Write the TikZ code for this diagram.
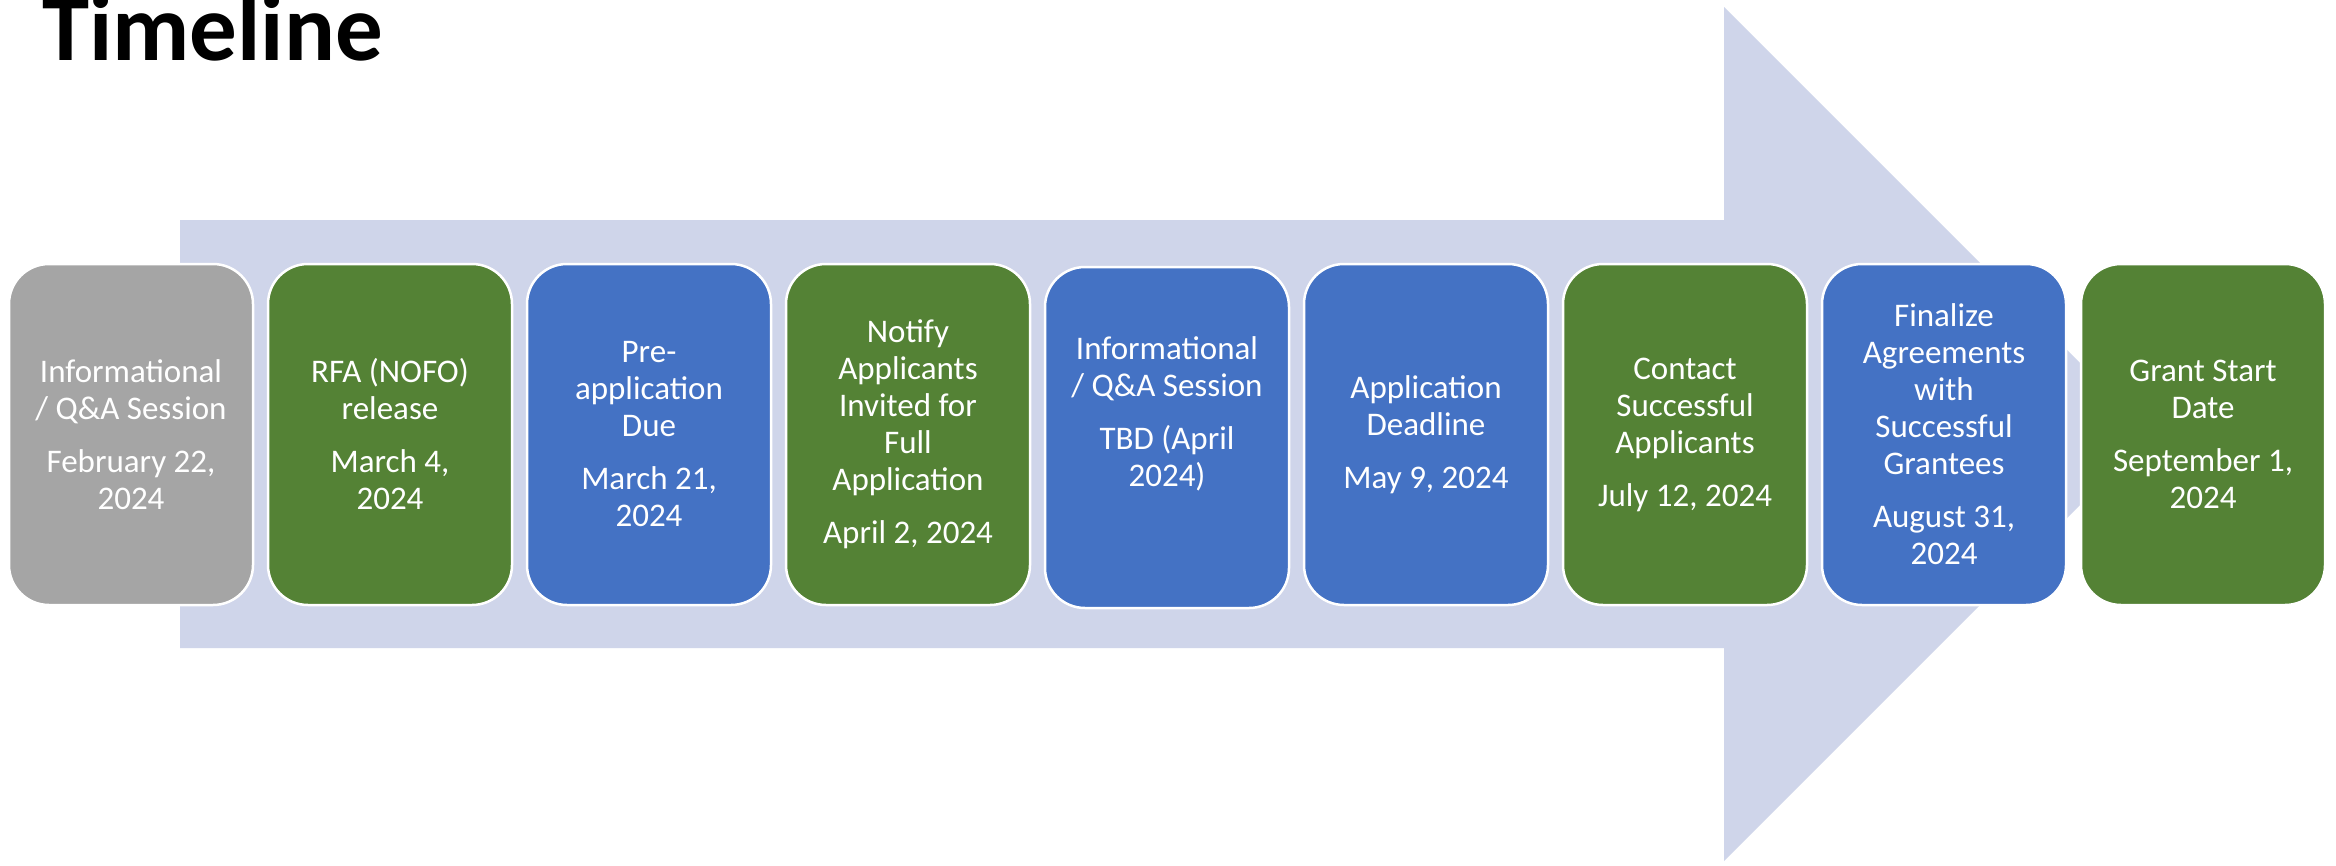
\documentclass[tikz,border=0pt]{standalone}
\usepackage{fontspec}
\setmainfont{Carlito}
\definecolor{arrowc}{HTML}{CFD5EA}
\definecolor{grayc}{HTML}{A5A5A5}
\definecolor{greenc}{HTML}{548235}
\definecolor{bluec}{HTML}{4472C4}
\begin{document}
\begin{tikzpicture}[x=1pt,y=-1pt,
  box/.style={rectangle, rounded corners=40pt, minimum width=244pt, minimum height=341pt,
    draw=white, line width=2.5pt, text=white, align=center,
    font=\fontsize{33}{37}\selectfont, inner sep=0pt},
  lbl/.style={text=white, align=center, font=\fontsize{33}{37}\selectfont, inner sep=0pt},
  title/.style={font=\fontsize{95}{100}\selectfont\bfseries, inner sep=0pt, anchor=base west}
]
\useasboundingbox (0,0) rectangle (2336,865);
\fill[white] (0,0) rectangle (2336,865);
% big arrow
\fill[arrowc] (180,220) -- (1724,220) -- (1724,7) -- (2151,434) -- (1724,861) -- (1724,648) -- (180,648) -- cycle;
% title
\node[title] (title) at (42,60) {Timeline};
% boxes
\node[box, fill=grayc] (b1) at (131,434.5) {Informational\\/ Q\&A Session\\[16pt]February 22,\\2024};
\node[box, fill=greenc] (b2) at (390,434.5) {RFA (NOFO)\\release\\[16pt]March 4,\\2024};
\node[box, fill=bluec] (b3) at (649,434.5) {Pre-\\application\\Due\\[16pt]March 21,\\2024};
\node[box, fill=greenc] (b4) at (908,434.5) {Notify\\Applicants\\Invited for\\Full\\Application\\[16pt]April 2, 2024};
\node[box, fill=bluec] (b5) at (1167,437.5) {};
\node[lbl] (t5) at ([yshift=24pt]b5.center) {Informational\\/ Q\&A Session\\[16pt]TBD (April\\2024)};
\node[box, fill=bluec] (b6) at (1426,434.5) {Application\\Deadline\\[16pt]May 9, 2024};
\node[box, fill=greenc] (b7) at (1685,434.5) {Contact\\Successful\\Applicants\\[16pt]July 12, 2024};
\node[box, fill=bluec] (b8) at (1944,434.5) {Finalize\\Agreements\\with\\Successful\\Grantees\\[16pt]August 31,\\2024};
\node[box, fill=greenc] (b9) at (2203,434.5) {Grant Start\\Date\\[16pt]September 1,\\2024};
\end{tikzpicture}
\end{document}
